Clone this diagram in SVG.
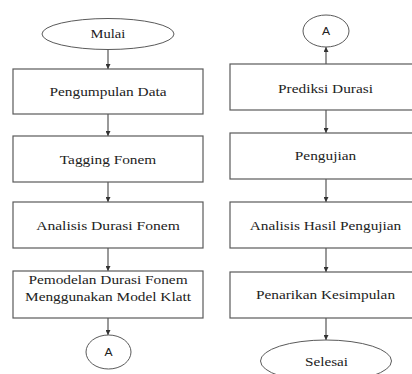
<svg xmlns="http://www.w3.org/2000/svg" width="412" height="374" viewBox="0 0 412 374">
<style>
.box{fill:#fff;stroke:#5a5a5a;stroke-width:1.2}
.term{fill:#fff;stroke:#5a5a5a;stroke-width:1}
.t{font-size:13px;fill:#222;text-anchor:middle}
.a{font-size:11px;fill:#222;text-anchor:middle}
.c{stroke:#555;stroke-width:1.2;fill:none;marker-end:url(#ah)}
</style>
<defs>
<marker id="ah" viewBox="0 0 10 10" refX="10" refY="5" markerWidth="5" markerHeight="5" markerUnits="userSpaceOnUse" orient="auto"><path d="M0,0 L10,5 L0,10 Z" fill="#333"/></marker>
</defs>
<rect width="412" height="374" fill="#fff"/>
<g id="connectors">
<line class="c" x1="108" y1="49" x2="108" y2="69"/>
<line class="c" x1="108" y1="114" x2="108" y2="136"/>
<line class="c" x1="108" y1="182" x2="108" y2="202"/>
<line class="c" x1="108" y1="248" x2="108" y2="271"/>
<line class="c" x1="108" y1="318" x2="108" y2="335"/>
<line class="c" x1="326" y1="64" x2="326" y2="47"/>
<line class="c" x1="326" y1="110" x2="326" y2="133"/>
<line class="c" x1="326" y1="179" x2="326" y2="202"/>
<line class="c" x1="326" y1="248" x2="326" y2="272"/>
<line class="c" x1="326" y1="318" x2="326" y2="340"/>
</g>
<g font-family="'Liberation Serif', 'Times New Roman', serif">
<g id="mulai"><ellipse class="term" cx="108" cy="34" rx="66" ry="15.5"/><text class="t" transform="translate(108,38) scale(1.12,1)">Mulai</text></g>
<g id="pengumpulan"><rect class="box" x="13" y="69" width="190" height="45"/><text class="t" transform="translate(108,96) scale(1.18,1)">Pengumpulan Data</text></g>
<g id="tagging"><rect class="box" x="13" y="136" width="190" height="46"/><text class="t" transform="translate(108,163.5) scale(1.18,1)">Tagging Fonem</text></g>
<g id="analisis"><rect class="box" x="13" y="202" width="190" height="46"/><text class="t" transform="translate(108,230) scale(1.2,1)">Analisis Durasi Fonem</text></g>
<g id="pemodelan"><rect class="box" x="13" y="271" width="190" height="47"/><text class="t" transform="translate(108,284) scale(1.18,1)">Pemodelan Durasi Fonem</text><text class="t" transform="translate(108,300.5) scale(1.18,1)">Menggunakan Model Klatt</text></g>
<g id="prediksi"><rect class="box" x="230" y="64" width="192" height="46"/><text class="t" transform="translate(325.5,92.5) scale(1.18,1)">Prediksi Durasi</text></g>
<g id="pengujian"><rect class="box" x="230" y="133" width="192" height="46"/><text class="t" transform="translate(325.5,160) scale(1.18,1)">Pengujian</text></g>
<g id="analisis-hasil"><rect class="box" x="230" y="202" width="192" height="46"/><text class="t" transform="translate(325.5,229.5) scale(1.18,1)">Analisis Hasil Pengujian</text></g>
<g id="penarikan"><rect class="box" x="230" y="272" width="192" height="46"/><text class="t" transform="translate(325.5,299) scale(1.18,1)">Penarikan Kesimpulan</text></g>
<g id="selesai"><ellipse class="term" cx="326" cy="361" rx="65.5" ry="21"/><text class="t" transform="translate(326.5,366) scale(1.17,1)">Selesai</text></g>
</g>
<g font-family="'Liberation Sans', Arial, sans-serif">
<g id="a-left"><ellipse class="term" cx="108.5" cy="352" rx="22.5" ry="17"/><text class="a" transform="translate(108.5,356) scale(1.1,1)">A</text></g>
<g id="a-right"><ellipse class="term" cx="326" cy="31" rx="23" ry="16"/><text class="a" transform="translate(326,34.5) scale(1.1,1)">A</text></g>
</g>
</svg>
